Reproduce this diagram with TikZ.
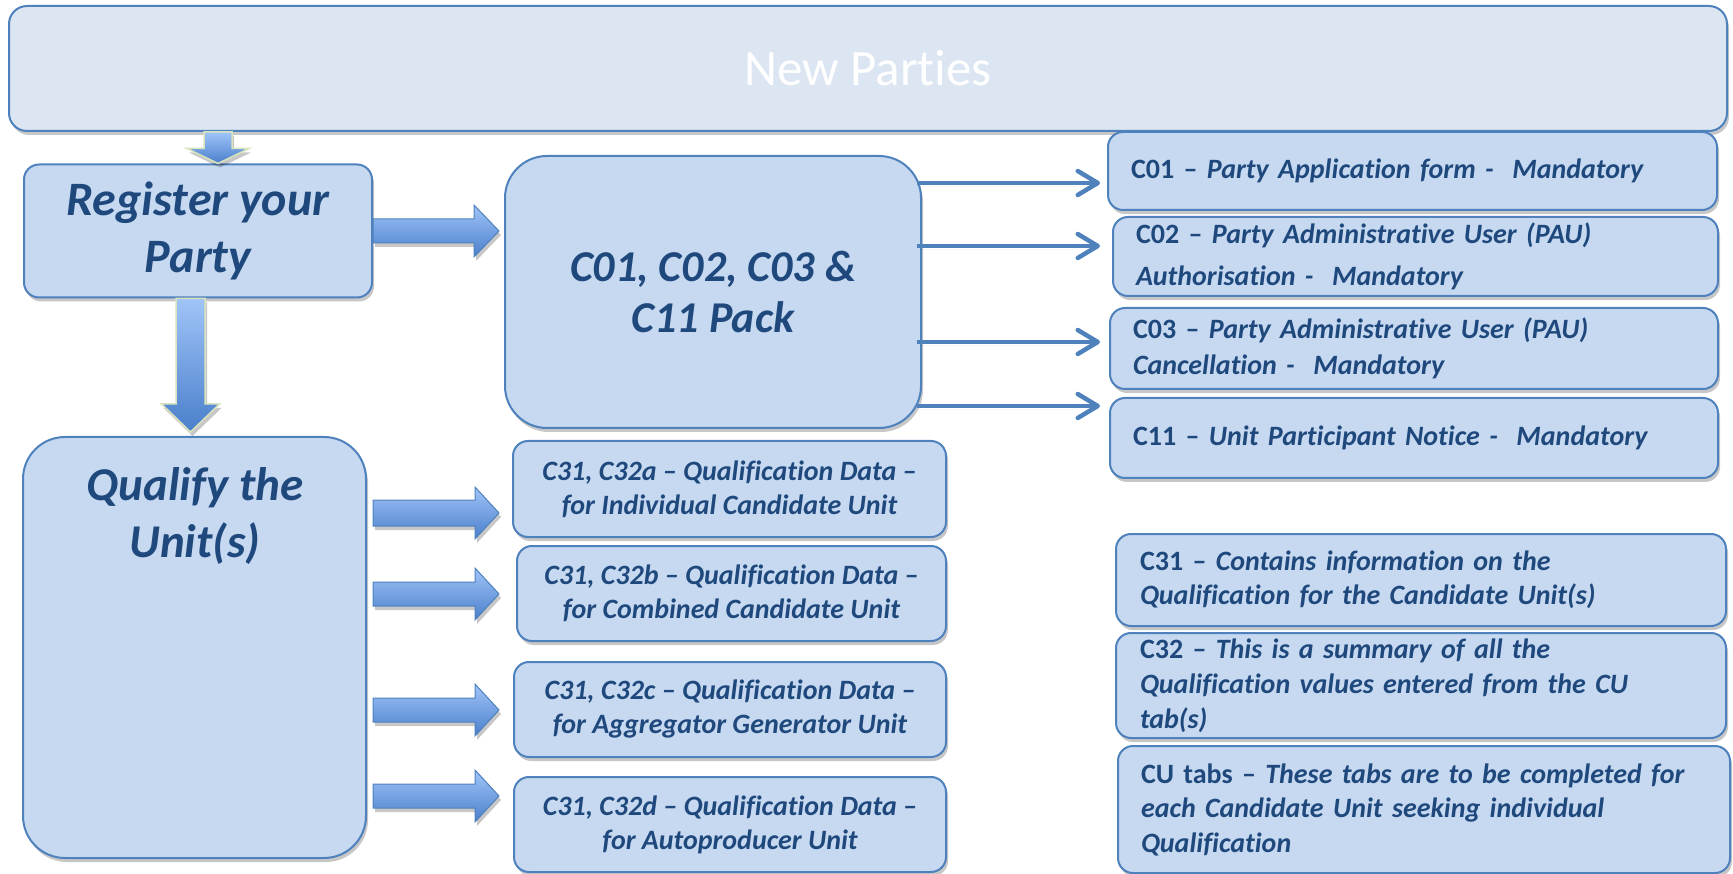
\documentclass[tikz,border=0pt]{standalone}
\usepackage{fontspec}
\setmainfont{Carlito}[Ligatures=NoCommon]
\usetikzlibrary{arrows.meta,shadows,calc}
\definecolor{boxfill}{HTML}{C6D9F1}
\definecolor{topfill}{HTML}{DCE6F2}
\definecolor{boxline}{HTML}{4F81BD}
\definecolor{txt}{HTML}{1F497D}
\definecolor{arrlight}{HTML}{A0C4F8}
\definecolor{arrdark}{HTML}{4A7FCB}
\definecolor{arrrim}{HTML}{D7E4BD}
\newcommand\harr[6]{\path[#1] let \p1=(#2), \p2=(#3) in
  (\x1,\y1+#4) -- (\x2-#6,\y1+#4) -- (\x2-#6,\y1+#5) -- (\x2,\y1) --
  (\x2-#6,\y1-#5) -- (\x2-#6,\y1-#4) -- (\x1,\y1-#4) -- cycle;}
\newcommand\varr[6]{\path[#1] let \p1=(#2), \p2=(#3) in
  (\x1-#4,\y1) -- (\x1-#4,\y2+#6) -- (\x1-#5,\y2+#6) -- (\x1,\y2) --
  (\x1+#5,\y2+#6) -- (\x1+#4,\y2+#6) -- (\x1+#4,\y1) -- cycle;}
\begin{document}
\begin{tikzpicture}[x=1pt,y=-1pt,
  shad/.style={drop shadow={shadow xshift=2pt,shadow yshift=-4pt,opacity=0.22,fill=black}},
  box/.style={draw=boxline,line width=2pt,fill=boxfill,rounded corners=15pt,shad,
    text=txt,inner sep=0pt,font=\bfseries\itshape},
  lbox/.style={box,align=left,inner xsep=23pt},
  qbox/.style={box,align=center,font=\fontsize{28}{34}\selectfont\bfseries\itshape},
  harrow/.style={top color=arrlight,bottom color=arrdark,draw=boxline,line width=1pt,shad},
  varrow/.style={top color=arrlight,bottom color=arrdark,draw=arrrim,line width=1.5pt,shad},
  thinarrow/.style={draw=boxline,line width=4.5pt,shad,-{Straight Barb[length=20pt,width=24pt,round]}},
]
\useasboundingbox (0,0) rectangle (1733,874);

% top banner
\node[box,fill=topfill,rounded corners=18pt,minimum width=1718pt,minimum height=125pt,
  text=white,font=\fontsize{51}{57}\selectfont] (top) at (868,68.5) {New Parties};

% left column
\node[box,minimum width=348pt,minimum height=133pt,align=center,
  font=\fontsize{48}{57}\selectfont\bfseries\itshape] (reg) at (198,231) {Register your\\Party};
\node[box,rounded corners=42pt,minimum width=343pt,minimum height=421pt] (qual) at (194.5,647.5) {};
\node[text=txt,align=center,anchor=base,inner sep=0pt,
  font=\fontsize{47}{57}\selectfont\bfseries\itshape] (qtxt) at (195,557) {Qualify the\\Unit(s)};

% pack
\node[box,rounded corners=42pt,minimum width=416pt,minimum height=272pt,align=center,
  font=\fontsize{44}{51}\selectfont\bfseries\itshape] (pack) at (713,292) {C01, C02, C03 \&\\C11 Pack};

% right boxes
\node[lbox,minimum width=609pt,minimum height=78pt,text width=563pt,
  font=\fontsize{28}{36}\selectfont\bfseries] (c01) at (1412.5,171)
  {\upshape C01 – \itshape Party Application form -\ \ Mandatory\strut};
\node[lbox,minimum width=605pt,minimum height=79pt,text width=559pt,
  font=\fontsize{28}{42}\selectfont\bfseries] (c02) at (1415.5,256.5)
  {\upshape C02 – \itshape Party Administrative User (PAU)\\Authorisation -\ \ Mandatory};
\node[lbox,minimum width=608pt,minimum height=81pt,text width=562pt,
  font=\fontsize{28}{36}\selectfont\bfseries] (c03) at (1414,348.5)
  {\upshape C03 – \itshape Party Administrative User (PAU)\\Cancellation -\ \ Mandatory};
\node[lbox,minimum width=608pt,minimum height=80pt,text width=562pt,
  font=\fontsize{28}{36}\selectfont\bfseries] (c11) at (1414,438)
  {\upshape C11 – \itshape Unit Participant Notice -\ \ Mandatory\strut};

% info boxes
\node[lbox,minimum width=610pt,minimum height=92pt,text width=562pt,
  font=\fontsize{28}{34}\selectfont\bfseries] (i31) at (1421,580)
  {\upshape C31 – \itshape Contains information on the\\Qualification for the Candidate Unit(s)};
\node[lbox,minimum width=610pt,minimum height=105pt,text width=562pt,
  font=\fontsize{28}{35}\selectfont\bfseries] (i32) at (1421,685.5)
  {\upshape C32 – \itshape This is a summary of all the\\Qualification values entered from the CU\\tab(s)};
\node[lbox,minimum width=612pt,minimum height=127pt,text width=566pt,
  font=\fontsize{28}{34.5}\selectfont\bfseries] (icu) at (1424,809.5)
  {\upshape CU tabs – \itshape These tabs are to be completed for\\each Candidate Unit seeking individual\\Qualification};

% qualification boxes
\node[qbox,minimum width=433pt,minimum height=96pt] (qa) at (729.5,489)
  {C31, C32a – Qualification Data –\\for Individual Candidate Unit};
\node[qbox,minimum width=429pt,minimum height=95pt] (qb) at (731.5,593.5)
  {C31, C32b – Qualification Data –\\for Combined Candidate Unit};
\node[qbox,minimum width=432pt,minimum height=95pt] (qc) at (730,709.5)
  {C31, C32c – Qualification Data –\\for Aggregator Generator Unit};
\node[qbox,minimum width=432pt,minimum height=95pt] (qd) at (730,824.5)
  {C31, C32d – Qualification Data –\\for Autoproducer Unit};

% helper coordinates
\coordinate (sat) at (218,0);
\coordinate (bat) at (190.5,0);
\coordinate (q1) at (0,513);
\coordinate (q2) at (0,594);
\coordinate (q3) at (0,710);
\coordinate (q4) at (0,796);
\coordinate (t1) at (0,183);
\coordinate (t2) at (0,246);
\coordinate (t3) at (0,342);
\coordinate (t4) at (0,406);

% block arrows
\varr{varrow}{sat |- top.south}{sat |- reg.north}{14pt}{31pt}{15pt}
\varr{varrow}{bat |- reg.south}{[yshift=4pt]bat |- qual.north}{14.5pt}{29pt}{28pt}
\harr{harrow}{reg.east}{[xshift=-5pt]reg.east -| pack.west}{12pt}{26pt}{25pt}
\harr{harrow}{[xshift=6pt]qual.east |- q1}{[xshift=-13pt]qa.west |- q1}{13pt}{26pt}{24pt}
\harr{harrow}{[xshift=6pt]qual.east |- q2}{[xshift=-17pt]qb.west |- q2}{12pt}{26pt}{24pt}
\harr{harrow}{[xshift=6pt]qual.east |- q3}{[xshift=-14pt]qc.west |- q3}{12pt}{26pt}{24pt}
\harr{harrow}{[xshift=6pt]qual.east |- q4}{[xshift=-14pt]qd.west |- q4}{12pt}{26pt}{24pt}

% thin arrows
\draw[thinarrow] ([xshift=-5pt]pack.east |- t1) -- ([xshift=-7pt]c01.west |- t1);
\draw[thinarrow] ([xshift=-5pt]pack.east |- t2) -- ([xshift=-12pt]c02.west |- t2);
\draw[thinarrow] ([xshift=-5pt]pack.east |- t3) -- ([xshift=-9pt]c03.west |- t3);
\draw[thinarrow] ([xshift=-5pt]pack.east |- t4) -- ([xshift=-9pt]c11.west |- t4);
\end{tikzpicture}
\end{document}
